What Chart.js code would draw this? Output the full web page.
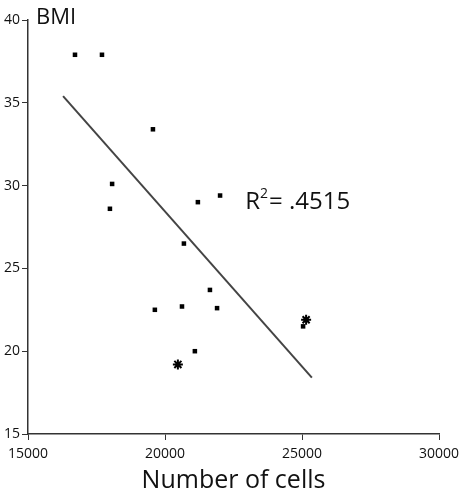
<!DOCTYPE html>
<html>
<head>
<script src="https://cdn.jsdelivr.net/npm/chart.js@4"></script>
<style>
  body { margin: 0; background: #fff; }
  #wrap { width: 466px; height: 500px; }
</style>
</head>
<body>
<div id="wrap"><canvas id="c"></canvas></div>
<script>
// data
const cells = [16715, 17700, 19560, 18070, 17990, 22010, 21200, 20690, 21640, 19630, 20620, 21900, 21090, 25040];
const bmi   = [37.9, 37.9, 33.4, 30.1, 28.6, 29.4, 29.0, 26.5, 23.7, 22.5, 22.7, 22.6, 20.0, 21.5];
const starCells = [20470, 25150];
const starBmi   = [19.2, 21.9];
const fitX = [16280, 25360];
const fitY = [35.4, 18.4];
const xTicks = [15000, 20000, 25000, 30000];
const yTicks = [15, 20, 25, 30, 35, 40];

const toPts = (xs, ys) => xs.map((x, i) => ({ x, y: ys[i] }));
const font = "'Open Sans', 'Liberation Sans', sans-serif";

// text labels: BMI and R²
const labels = {
  id: "labels",
  afterDraw(chart) {
    const ctx = chart.ctx;
    ctx.save();
    ctx.fillStyle = "#111";
    ctx.textBaseline = "alphabetic";
    ctx.font = `22px ${font}`;
    ctx.fillText("BMI", 36, 24);
    const x = chart.scales.x.getPixelForValue(23000) - 2;
    const y = chart.scales.y.getPixelForValue(28.6);
    ctx.font = `24px ${font}`;
    ctx.fillText("R", x, y);
    const rw = ctx.measureText("R").width;
    ctx.font = `14px ${font}`;
    ctx.fillText("2", x + rw, y - 11);
    ctx.font = `24px ${font}`;
    ctx.fillText("= .4515", x + rw + 9, y);
    ctx.restore();
  }
};

new Chart(document.getElementById("c"), {
  type: "scatter",
  data: {
    datasets: [
      { data: toPts(cells, bmi), pointStyle: "rect", pointRadius: 3.2, backgroundColor: "#000", borderColor: "#000", borderWidth: 0 },
      { data: toPts(starCells, starBmi), pointStyle: "star", pointRadius: 5, borderColor: "#000", borderWidth: 2 },
      { type: "line", data: toPts(fitX, fitY), borderColor: "#444", borderWidth: 2, pointRadius: 0, fill: false }
    ]
  },
  options: {
    responsive: true,
    maintainAspectRatio: false,
    animation: false,
    layout: { padding: { top: 20, right: 27, left: 0, bottom: 0 } },
    plugins: { legend: { display: false }, tooltip: { enabled: false } },
    scales: {
      x: {
        type: "linear", min: 15000, max: 30000,
        afterBuildTicks: s => { s.ticks = xTicks.map(v => ({ value: v })); },
        afterFit: s => { s.height = 66; },
        border: { color: "#333", width: 1.5 },
        grid: { drawOnChartArea: false, drawTicks: true, tickLength: 6, color: "#333" },
        ticks: { color: "#111", font: { family: font, size: 14 }, padding: 6, maxRotation: 0,
          callback: v => String(v) },
        title: { display: true, text: "Number of cells", color: "#111", font: { family: font, size: 25 }, padding: { top: 12 } }
      },
      y: {
        min: 15, max: 40,
        afterBuildTicks: s => { s.ticks = yTicks.map(v => ({ value: v })); },
        afterFit: s => { s.width = 28; },
        border: { color: "#333", width: 1.5 },
        grid: { drawOnChartArea: false, drawTicks: true, tickLength: 6, color: "#333" },
        ticks: { color: "#111", font: { family: font, size: 14 }, padding: 2 }
      }
    }
  },
  plugins: [labels]
});
</script>
</body>
</html>
